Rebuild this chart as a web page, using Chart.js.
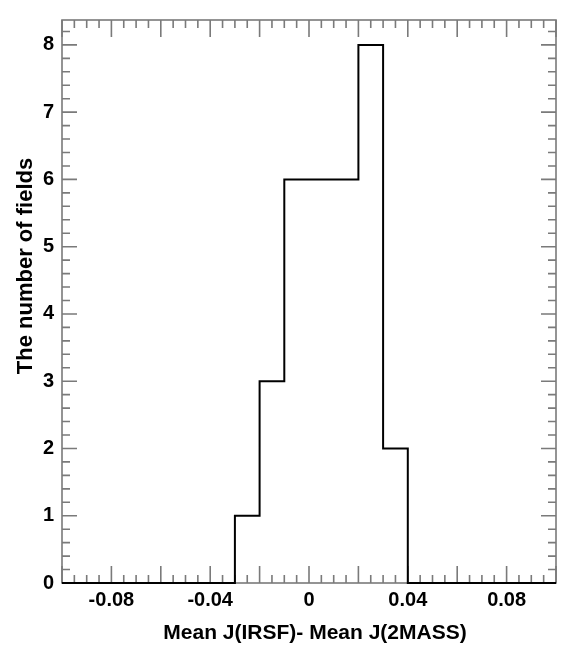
<!DOCTYPE html>
<html>
<head>
<meta charset="utf-8">
<script src="https://cdn.jsdelivr.net/npm/chart.js@4.4.0/dist/chart.umd.min.js"></script>
<style>
  html, body { margin: 0; padding: 0; background: #fff; }
  canvas { display: block; }
</style>
</head>
<body>
<canvas id="histo" width="570" height="651"></canvas>
<script>
// Histograma: bins de 0.01 entre -0.10 y 0.10
const binStarts = [-0.10, -0.09, -0.08, -0.07, -0.06, -0.05, -0.04, -0.03, -0.02, -0.01,
                   0.00, 0.01, 0.02, 0.03, 0.04, 0.05, 0.06, 0.07, 0.08, 0.09];
const binWidth = 0.01;
const counts = [0, 0, 0, 0, 0, 0, 0, 1, 3, 6, 6, 6, 8, 2, 0, 0, 0, 0, 0, 0];
const xTickLabels = [-0.08, -0.04, 0, 0.04, 0.08];
const yTickLabels = [0, 1, 2, 3, 4, 5, 6, 7, 8];
const xTitle = 'Mean J(IRSF)- Mean J(2MASS)';
const yTitle = 'The number of fields';

const FONT = '"Liberation Sans", Arial, Helvetica, sans-serif';

// puntos del escalon: cada bin empieza en su borde izquierdo, y se cierra en 0.10
const stepPoints = binStarts.map((x, i) => ({ x: x, y: counts[i] }));
stepPoints.push({ x: binStarts[binStarts.length - 1] + binWidth, y: counts[counts.length - 1] });

// marco gris y ticks hacia adentro en los cuatro lados
const frameTicks = {
    id: 'frameTicks',
    beforeDatasetsDraw(chart) {
        const ctx = chart.ctx;
        const area = chart.chartArea;
        const xs = chart.scales.x;
        const ys = chart.scales.y;

        ctx.save();
        ctx.strokeStyle = '#7a7a7a';
        ctx.lineWidth = 1.6;
        ctx.strokeRect(area.left, area.top, area.right - area.left, area.bottom - area.top);

        ctx.beginPath();
        for (let i = -20; i <= 20; i++) {
            const v = i * 0.005;
            const px = xs.getPixelForValue(v);
            const len = (i % 4 === 0) ? 17 : 8;
            ctx.moveTo(px, area.bottom);
            ctx.lineTo(px, area.bottom - len);
            ctx.moveTo(px, area.top);
            ctx.lineTo(px, area.top + len);
        }
        for (let i = 0; i <= 45; i++) {
            const v = i * 0.2;
            if (v > ys.max) break;
            const py = ys.getPixelForValue(v);
            const len = (i % 5 === 0) ? 15 : 8;
            ctx.moveTo(area.left, py);
            ctx.lineTo(area.left + len, py);
            ctx.moveTo(area.right, py);
            ctx.lineTo(area.right - len, py);
        }
        ctx.stroke();
        ctx.restore();
    },
    afterDraw(chart) {
        const ctx = chart.ctx;
        const area = chart.chartArea;
        ctx.save();
        ctx.fillStyle = '#000';
        ctx.textAlign = 'center';
        ctx.textBaseline = 'middle';

        ctx.font = 'bold 21px ' + FONT;
        ctx.fillText(xTitle, (area.left + area.right) / 2 + 6, 633);

        ctx.font = 'bold 22px ' + FONT;
        ctx.translate(26, 266);
        ctx.rotate(-Math.PI / 2);
        ctx.fillText(yTitle, 0, 0);
        ctx.restore();
    }
};

const histChart = new Chart(document.getElementById('histo').getContext('2d'), {
    type: 'line',
    data: {
        datasets: [{
            data: stepPoints,
            stepped: 'before',
            borderColor: '#000',
            borderWidth: 2,
            pointRadius: 0,
            fill: false,
            clip: false
        }]
    },
    options: {
        responsive: false,
        animation: false,
        layout: { padding: { top: 11, right: 14, left: 0, bottom: 0 } },
        plugins: {
            legend: { display: false },
            tooltip: { enabled: false }
        },
        scales: {
            x: {
                type: 'linear',
                min: -0.1,
                max: 0.1,
                grid: { display: false, drawTicks: false },
                border: { display: false },
                afterBuildTicks: scale => { scale.ticks = xTickLabels.map(v => ({ value: v })); },
                afterFit: scale => { scale.height = 68; },
                ticks: {
                    padding: 5,
                    maxRotation: 0,
                    color: '#000',
                    font: { family: FONT, size: 20, weight: 'bold' },
                    callback: v => (v === 0 ? '0' : String(Number(v.toFixed(2))).replace('0.', '0.'))
                }
            },
            y: {
                type: 'linear',
                min: 0,
                max: 8.37,
                grid: { display: false, drawTicks: false },
                border: { display: false },
                afterBuildTicks: scale => { scale.ticks = yTickLabels.map(v => ({ value: v })); },
                afterFit: scale => { scale.width = 62; },
                ticks: {
                    padding: 8,
                    color: '#000',
                    font: { family: FONT, size: 20, weight: 'bold' },
                    callback: v => String(v)
                }
            }
        }
    },
    plugins: [frameTicks]
});
</script>
</body>
</html>
